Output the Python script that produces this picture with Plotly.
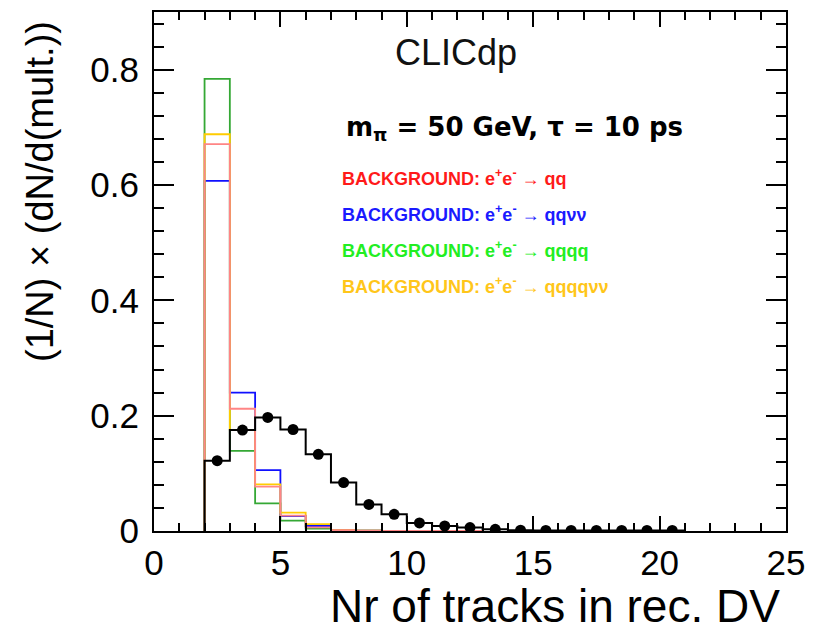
import plotly.graph_objects as go

# ---------------- data ----------------
bg_edges = [2, 3, 4, 5, 6, 7, 8, 9, 10, 11, 12, 13]
bg_qq = [0.671, 0.212, 0.077, 0.0265, 0.0064, 0.0015, 0.0005, 0, 0, 0, 0]
bg_qqvv = [0.607, 0.240, 0.1056, 0.026, 0.0087, 0.0015, 0.0005, 0, 0, 0, 0]
bg_qqqq = [0.784, 0.139, 0.048, 0.018, 0.004, 0.001, 0.0005, 0, 0, 0, 0]
bg_qqqqvv = [0.688, 0.175, 0.081, 0.032, 0.012, 0.0015, 0.0005, 0, 0, 0, 0]

sig_edges = [2, 3, 4, 5, 6, 7, 8, 9, 10, 11, 12, 13, 14, 15, 16, 17, 18, 19, 20, 21]
sig_centers = [2.5, 3.5, 4.5, 5.5, 6.5, 7.5, 8.5, 9.5, 10.5, 11.5, 12.5, 13.5,
               14.5, 15.5, 16.5, 17.5, 18.5, 19.5, 20.5]
sig_vals = [0.122, 0.175, 0.197, 0.176, 0.133, 0.084, 0.046, 0.029, 0.014, 0.0087,
            0.006, 0.003, 0.0015, 0.001, 0.001, 0.001, 0.001, 0.001, 0.001]

x_ticks = [0, 5, 10, 15, 20, 25]
y_ticks = [0, 0.2, 0.4, 0.6, 0.8]
y_ticktext = ["0", "0.2", "0.4", "0.6", "0.8"]

legend_labels = [
    "BACKGROUND: e<sup>+</sup>e<sup>-</sup> \u2192 qq",
    "BACKGROUND: e<sup>+</sup>e<sup>-</sup> \u2192 qq\u03bd\u03bd",
    "BACKGROUND: e<sup>+</sup>e<sup>-</sup> \u2192 qqqq",
    "BACKGROUND: e<sup>+</sup>e<sup>-</sup> \u2192 qqqq\u03bd\u03bd",
]
legend_colors = ["#ff1a1a", "#1a1aff", "#22ee22", "#ffc61a"]
line_colors = {"qq": "#ff8585", "qqvv": "#1010ff", "qqqq": "#35a835", "qqqqvv": "#ffcc00"}

# ---------------- figure ----------------
def step(edges, vals):
    xs = [edges[0]] + list(edges)
    ys = [0] + list(vals) + [vals[-1]]
    return xs, ys

fig = go.Figure()
for key, vals in [("qqvv", bg_qqvv), ("qqqq", bg_qqqq), ("qqqqvv", bg_qqqqvv), ("qq", bg_qq)]:
    xs, ys = step(bg_edges, vals)
    fig.add_trace(go.Scatter(x=xs, y=ys, mode="lines", line=dict(shape="hv", color=line_colors[key], width=1.8),
                             hoverinfo="skip", showlegend=False))

xs, ys = step(sig_edges, sig_vals)
fig.add_trace(go.Scatter(x=xs, y=ys, mode="lines", line=dict(shape="hv", color="black", width=2),
                         showlegend=False))
fig.add_trace(go.Scatter(x=sig_centers, y=sig_vals, mode="markers",
                         marker=dict(color="black", size=11), showlegend=False))

# page has an 8px body margin: work in page coords, convert to figure coords
OFF = 8
L, R, T, B = 154 - OFF, 786 - OFF, 12 - OFF, 531 - OFF
W, H = 813, 628

def px(xp):
    return (xp - OFF - L) / (R - L)

def py(yp):
    return (B - (yp - OFF)) / (B - T)

ann = []
ann.append(dict(x=px(456), y=py(52), text="CLICdp", showarrow=False, xanchor="center", yanchor="middle",
                font=dict(family="Liberation Sans", size=36, color="#111111")))
ann.append(dict(x=px(344), y=py(128), text="m<sub>\u03c0</sub> = 50 GeV, \u03c4 = 10 ps", showarrow=False,
                xanchor="left", yanchor="middle",
                font=dict(family="DejaVu Sans", size=26, color="black", weight="bold")))
for i, (lab, col) in enumerate(zip(legend_labels, legend_colors)):
    ycen = [177, 213, 250, 286][i]
    ann.append(dict(x=px(340), y=py(ycen), text=lab, showarrow=False, xanchor="left", yanchor="middle",
                    font=dict(family="Liberation Sans", size=18, color=col, weight="bold")))
ann.append(dict(x=px(40), y=py(192), text="(1/N) \u00d7 (dN/d(mult.))", showarrow=False, textangle=-90,
                xanchor="center", yanchor="middle",
                font=dict(family="Liberation Sans", size=38, color="black")))
ann.append(dict(x=px(782), y=py(606), text="Nr of tracks in rec. DV", showarrow=False,
                xanchor="right", yanchor="middle",
                font=dict(family="Liberation Sans", size=46, color="black")))
for a in ann:
    a["xref"] = "paper"
    a["yref"] = "paper"

fig.update_layout(
    width=W, height=H,
    margin=dict(l=L, r=W - R, t=T, b=H - B, autoexpand=False),
    paper_bgcolor="white", plot_bgcolor="white",
    annotations=ann,
    xaxis=dict(range=[0, 25], tickvals=x_ticks, ticks="inside", ticklen=15, tickwidth=2, automargin=False,
               tickcolor="black", showline=True, linecolor="black", linewidth=2, mirror="ticks",
               showgrid=False, zeroline=False, ticklabelstandoff=0,
               tickfont=dict(family="Liberation Sans", size=35, color="black"),
               minor=dict(dtick=1, ticks="inside", ticklen=8, tickwidth=1.5, tickcolor="black", showgrid=False)),
    yaxis=dict(range=[0, 0.9], tickvals=y_ticks, ticktext=y_ticktext, automargin=False,
               ticks="inside", ticklen=20, tickwidth=2,
               tickcolor="black", showline=True, linecolor="black", linewidth=2, mirror="ticks",
               showgrid=False, zeroline=False, ticklabelstandoff=6,
               tickfont=dict(family="Liberation Sans", size=35, color="black"),
               minor=dict(dtick=0.04, ticks="inside", ticklen=10, tickwidth=1.5, tickcolor="black", showgrid=False)),
)

fig.write_html("out.html")
